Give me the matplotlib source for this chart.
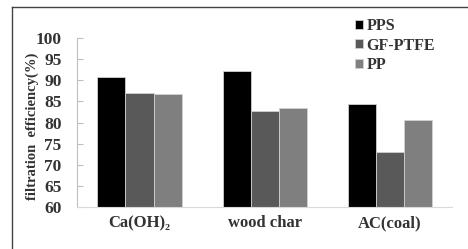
import numpy as np
import matplotlib
matplotlib.use("Agg")
import matplotlib.pyplot as plt
from matplotlib.lines import Line2D

plt.rcParams['font.family'] = ['Liberation Serif', 'DejaVu Serif']
plt.rcParams['font.weight'] = 'bold'
plt.rcParams['axes.labelweight'] = 'bold'

categories = ['Ca(OH)\u2082', 'wood char', 'AC(coal)']
series = ['PPS', 'GF-PTFE', 'PP']
pps = [90.8, 92.1, 84.3]
gf_ptfe = [87.1, 82.7, 73.1]
pp = [86.7, 83.5, 80.5]
colors = ['#000000', '#595959', '#7f7f7f']

fig = plt.figure(figsize=(4.68, 2.49), dpi=100)
ax = fig.add_axes([0.1645, 0.1687, 0.8015, 0.6783])

x = np.arange(len(categories))
w = 0.224
for i, (vals, name) in enumerate(zip([pps, gf_ptfe, pp], series)):
    ax.bar(x + (i - 1) * w, vals, width=w, color=colors[i], label=name,
           edgecolor='#d0d0d0', linewidth=0.6)

ax.set_xlim(-0.5, 2.5)
ax.set_ylim(60, 100)
ax.set_yticks(np.arange(60, 101, 5))
ax.set_xticks(x)
ax.set_xticklabels(categories, fontsize=12, color='#333333')
ax.tick_params(axis='x', length=0, pad=6)
ax.tick_params(axis='y', direction='in', length=4, color='#bfbfbf',
               labelsize=12.5, labelcolor='#333333', pad=11)
for s in ['top', 'right']:
    ax.spines[s].set_visible(False)
ax.spines['left'].set_color('#bfbfbf')
ax.spines['bottom'].set_color('#d9d9d9')
ax.set_ylabel('filtration  efficiency(%)', fontsize=10.5, color='#333333')
ax.yaxis.set_label_coords(-0.102, 0.48)

leg = ax.legend(loc='upper left', bbox_to_anchor=(0.745, 0.952), bbox_transform=fig.transFigure,
                frameon=False, fontsize=11.5, handlelength=0.5, handleheight=0.5,
                handletextpad=0.2, labelspacing=0.2, borderaxespad=0)
for t in leg.get_texts():
    t.set_color('#333333')

# outer frame
fig.add_artist(Line2D([0.026, 0.026], [0.0, 0.972], transform=fig.transFigure, color='#444444', lw=1))
fig.add_artist(Line2D([0.026, 1.0], [0.972, 0.972], transform=fig.transFigure, color='#444444', lw=1))

fig.savefig('out.png', dpi=100)
